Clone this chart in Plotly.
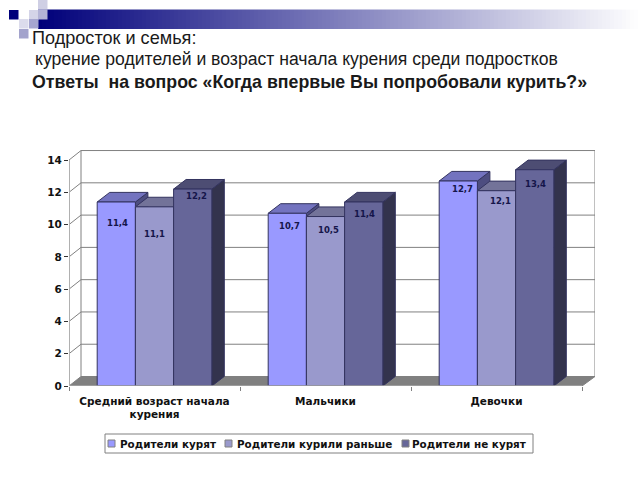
import plotly.graph_objects as go

categories = ["Средний возраст начала<br>курения", "Мальчики", "Девочки"]
series_names = ["Родители курят", "Родители курили раньше", "Родители не курят"]
smoke_now = [11.4, 10.7, 12.7]
smoke_before = [11.1, 10.5, 12.1]
smoke_never = [12.2, 11.4, 13.4]
y_ticks = [0, 2, 4, 6, 8, 10, 12, 14]

title_lines = ["Подросток и семья:",
               " курение родителей и возраст начала курения среди подростков",
               "Ответы  на вопрос «Когда впервые Вы попробовали курить?»"]

series = [smoke_now, smoke_before, smoke_never]
front_colors = ["#9999FF", "#9999CC", "#666699"]
top_colors = ["#7373BF", "#737399", "#4D4D73"]
side_colors = ["#4D4D80", "#4D4D66", "#33334D"]
outline = "#33335F"

# pixel layout of the chart
W, H = 640, 480
left, right, back_right = 69, 582, 595
top, bottom = 150, 386
px_x = (right - left) / 3
px_y = 16.14
dx = 12.5 / px_x
dy = 9.6 / px_y
bar_w = 38.2 / px_x
gap = 28.2 / px_x
wall_dx = 12 / px_x
wall_dy = 9.5 / px_y
x_max = (back_right - left) / px_x
y_max = (bottom - top) / px_y

# value labels were placed by hand in the original, offsets in px from the top centre of each bar
label_drop = [[13, 5, 0], [19, 5, 2], [-1, 4, 6]]
label_nudge = [[1, 2, 4], [0, 3, 4], [4, 1, 1]]

fig = go.Figure()

# top and side faces, painted left to right
for c in range(3):
    for s in range(3):
        x0 = c + gap + s * bar_w
        x1 = x0 + bar_w
        v = series[s][c]
        fig.add_trace(go.Scatter(x=[x1, x1 + dx, x1 + dx, x1, x1], y=[0, dy, v + dy, v, 0],
                                 fill="toself", fillcolor=side_colors[s], mode="lines",
                                 line=dict(color=outline, width=1), showlegend=False, hoverinfo="skip"))
        fig.add_trace(go.Scatter(x=[x0, x0 + dx, x1 + dx, x1, x0], y=[v, v + dy, v + dy, v, v],
                                 fill="toself", fillcolor=top_colors[s], mode="lines",
                                 line=dict(color=outline, width=1), showlegend=False, hoverinfo="skip"))

# front faces go on the overlay axes so they cover the faces of the bar to the left
for s in range(3):
    fig.add_trace(go.Bar(x=[c + gap + (s + 0.5) * bar_w for c in range(3)], y=series[s], width=bar_w,
                         name=series_names[s], xaxis="x2", yaxis="y2",
                         marker=dict(color=front_colors[s], line=dict(color=outline, width=1))))

for c in range(3):
    for s in range(3):
        fig.add_annotation(x=c + gap + (s + 0.5) * bar_w, y=series[s][c], xref="x2", yref="y2",
                           text=str(series[s][c]).replace(".", ","), showarrow=False,
                           yshift=-label_drop[s][c] - 1, xshift=label_nudge[s][c], yanchor="top",
                           font=dict(family="DejaVu Sans", size=8.5, weight="bold", color="#15154A"))

# walls, floor and gridlines
grid = dict(color="#808080", width=1)
fig.add_shape(type="path", layer="below", xref="x", yref="y", fillcolor="#808080", line=dict(color="#808080", width=1),
              path=f"M0,0 L{wall_dx},{wall_dy} L{x_max},{wall_dy} L{3},0 Z")
for t in y_ticks:
    if t > 0:
        fig.add_shape(type="line", layer="below", xref="x", yref="y", x0=0, y0=t, x1=wall_dx, y1=t + wall_dy, line=grid)
        fig.add_shape(type="line", layer="below", xref="x", yref="y", x0=wall_dx, y0=t + wall_dy, x1=x_max, y1=t + wall_dy, line=grid)
fig.add_shape(type="line", layer="below", xref="x", yref="y", x0=wall_dx, y0=wall_dy, x1=wall_dx, y1=14 + wall_dy, line=grid)
fig.add_shape(type="line", layer="below", xref="x", yref="y", x0=x_max, y0=wall_dy, x1=x_max, y1=14 + wall_dy, line=grid)

# header decoration
navy = (0, 0, 122)
for x in range(38, W, 4):
    t = min((x - 38) / 600, 1)
    rgb = [round(v + (255 - v) * t) for v in navy]
    fig.add_shape(type="rect", xref="paper", yref="paper", x0=x / W, x1=(x + 4) / W, y0=1 - 29 / H, y1=1 - 9.5 / H,
                  fillcolor=f"rgb({rgb[0]},{rgb[1]},{rgb[2]})", line_width=0)
squares = [(9, 10, "#00007A"), (29, 10, "#D4D4E8"), (38, 0, "#CFCFE4"), (38, 10, "#B3B3D6"),
           (19, 19, "#DCDCEC"), (29, 19, "#A6A6D0"), (19, 29, "#A3A3CC")]
for x, y, col in squares:
    fig.add_shape(type="rect", xref="paper", yref="paper", x0=x / W, x1=(x + 9.5) / W, y0=1 - (y + 9.5) / H, y1=1 - y / H,
                  fillcolor=col, line_width=0)

for text, x, y, size, bold in zip(title_lines, [30, 33, 30], [38, 59, 82], [18.1, 17.6, 17.75], [False, False, True]):
    fig.add_annotation(xref="paper", yref="paper", x=x / W, y=1 - y / H, xanchor="left", yanchor="middle",
                       showarrow=False, text=text.strip(),
                       font=dict(family="Liberation Sans", size=size, color="#1A1A1A", weight="bold" if bold else "normal"))

# legend box
fig.add_shape(type="rect", xref="paper", yref="paper", x0=105 / W, x1=533 / W, y0=1 - 453 / H, y1=1 - 434 / H,
              fillcolor="white", line=dict(color="#808080", width=1))
swatch_x = [108, 225, 402]
text_x = [118, 235, 410]
for name, sx, tx, col in zip(series_names, swatch_x, text_x, front_colors):
    fig.add_shape(type="rect", xref="paper", yref="paper", x0=sx / W, x1=(sx + 7) / W, y0=1 - 447 / H, y1=1 - 440 / H,
                  fillcolor=col, line=dict(color="#808080", width=1))
    fig.add_annotation(xref="paper", yref="paper", x=tx / W, y=1 - 443.5 / H, xanchor="left", yanchor="middle",
                       showarrow=False, text=name,
                       font=dict(family="DejaVu Sans", size=10.4, weight="bold", color="#111111"))

fig.update_layout(
    width=W, height=H, margin=dict(l=0, r=0, t=0, b=0), autosize=False,
    paper_bgcolor="white", plot_bgcolor="white", showlegend=False, barmode="overlay",
    xaxis=dict(domain=[left / W, back_right / W], range=[0, x_max], tickvals=[0, 1, 2, 3], ticktext=["", "", "", ""],
               ticks="outside", ticklen=4, tickcolor="#808080", showgrid=False, zeroline=False, automargin=False),
    yaxis=dict(domain=[1 - bottom / H, 1 - top / H], range=[0, y_max], tickvals=y_ticks, ticks="outside", ticklen=4,
               tickcolor="#333333", showgrid=False, zeroline=False, showline=False, automargin=False,
               tickfont=dict(family="DejaVu Sans", size=10.5, weight="bold", color="#111111")),
    xaxis2=dict(overlaying="x", anchor="y2", side="bottom", range=[0, x_max], tickvals=[0.5, 1.5, 2.5], ticktext=categories,
                ticks="", showgrid=False, zeroline=False, automargin=False, ticklabelstandoff=7,
                tickfont=dict(family="DejaVu Sans", size=10.5, weight="bold", color="#111111")),
    yaxis2=dict(overlaying="y", anchor="x2", range=[0, y_max], visible=False, automargin=False),
)
# axis lines stop at the front of the floor and at the 14 tick
fig.add_shape(type="line", xref="x", yref="y", x0=0, y0=0, x1=3, y1=0, line=dict(color="#A6A6A6", width=1.5))
fig.add_shape(type="line", xref="x", yref="y", x0=0, y0=0, x1=0, y1=14, line=dict(color="#B0B0B0", width=2))

fig.write_html("out.html", config={"displayModeBar": False}, post_script="document.body.style.margin='0';")
